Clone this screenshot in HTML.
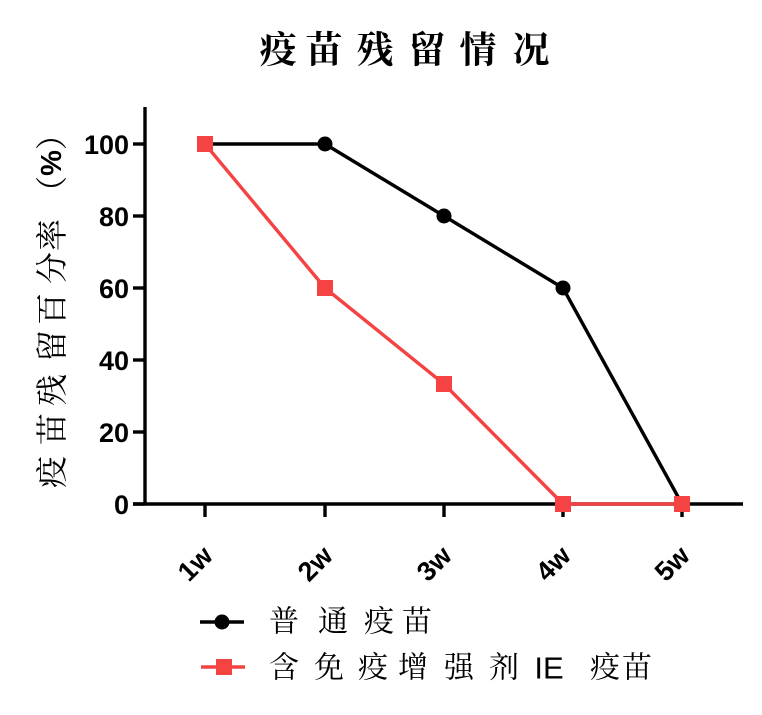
<!DOCTYPE html>
<html><head><meta charset="utf-8"><style>
html,body{margin:0;padding:0;background:#fff;}
svg{display:block;}
.t{font-family:"Liberation Sans",Arial,sans-serif;font-weight:bold;font-size:27px;fill:#000;}
.cj{font-family:"Liberation Serif","Noto Serif CJK SC","Noto Sans CJK SC",serif;fill:#000;}
</style></head><body>
<svg width="762" height="715" viewBox="0 0 762 715" xmlns="http://www.w3.org/2000/svg">
<!-- title -->
<g class="cj" font-size="37" font-weight="bold" text-anchor="middle" dominant-baseline="central">
<text x="278" y="51">疫</text><text x="324" y="51">苗</text><text x="375" y="51">残</text>
<text x="427" y="51">留</text><text x="478" y="51">情</text><text x="531" y="51">况</text>
</g>
<!-- y label -->
<g class="cj" font-size="32" text-anchor="middle" dominant-baseline="central">
<text transform="translate(52,472) rotate(-90)">疫</text>
<text transform="translate(52,429) rotate(-90)">苗</text>
<text transform="translate(52,390) rotate(-90)">残</text>
<text transform="translate(52,346) rotate(-90)">留</text>
<text transform="translate(52,309) rotate(-90)">百</text>
<text transform="translate(52,268) rotate(-90)">分</text>
<text transform="translate(52,235) rotate(-90)">率</text>
<text transform="translate(52,163) rotate(-90)">（<tspan font-family="Liberation Sans" font-weight="bold" font-size="29">%</tspan>）</text>
</g>
<!-- axes -->
<g stroke="#000" stroke-width="3.4" fill="none">
<line x1="145" y1="107" x2="145" y2="505"/>
<line x1="133" y1="504" x2="743" y2="504"/>
<line x1="133" y1="144" x2="145" y2="144"/>
<line x1="133" y1="216" x2="145" y2="216"/>
<line x1="133" y1="288" x2="145" y2="288"/>
<line x1="133" y1="360" x2="145" y2="360"/>
<line x1="133" y1="432" x2="145" y2="432"/>
<line x1="133" y1="504" x2="145" y2="504"/>
<line x1="205" y1="504" x2="205" y2="517"/>
<line x1="325" y1="504" x2="325" y2="517"/>
<line x1="444" y1="504" x2="444" y2="517"/>
<line x1="563" y1="504" x2="563" y2="517"/>
<line x1="682" y1="504" x2="682" y2="517"/>
</g>
<!-- y tick labels -->
<g class="t" text-anchor="end" dominant-baseline="central">
<text x="129" y="145">100</text>
<text x="129" y="217">80</text>
<text x="129" y="289">60</text>
<text x="129" y="361">40</text>
<text x="129" y="433">20</text>
<text x="129" y="505">0</text>
</g>
<!-- x tick labels -->
<g class="t" font-size="28" text-anchor="end" dominant-baseline="central">
<text transform="translate(208,551) rotate(-45)">1w</text>
<text transform="translate(328,551) rotate(-45)">2w</text>
<text transform="translate(447,551) rotate(-45)">3w</text>
<text transform="translate(566,551) rotate(-45)">4w</text>
<text transform="translate(685,551) rotate(-45)">5w</text>
</g>
<!-- black series -->
<polyline points="205,144 325,144 444,216 563,288 682,504" fill="none" stroke="#000" stroke-width="3.4" stroke-linejoin="round"/>
<g fill="#000">
<circle cx="205" cy="144" r="7.5"/>
<circle cx="325" cy="144" r="7.5"/>
<circle cx="444" cy="216" r="7.5"/>
<circle cx="563" cy="288" r="7.5"/>
<circle cx="682" cy="504" r="7.5"/>
</g>
<!-- red series -->
<polyline points="205,144 325,288 444,384 563,504 682,504" fill="none" stroke="#F54242" stroke-width="3.4" stroke-linejoin="round"/>
<g fill="#F54242">
<rect x="197" y="136" width="16" height="16"/>
<rect x="317" y="280" width="16" height="16"/>
<rect x="436" y="376" width="16" height="16"/>
<rect x="555" y="496" width="16" height="16"/>
<rect x="674" y="496" width="16" height="16"/>
</g>
<!-- legend -->
<line x1="200" y1="622" x2="244" y2="622" stroke="#000" stroke-width="3.4"/>
<circle cx="222" cy="622" r="7.5" fill="#000"/>
<line x1="201" y1="667" x2="245" y2="667" stroke="#F54242" stroke-width="3.4"/>
<rect x="216" y="659" width="16" height="16" fill="#F54242"/>
<g class="cj" font-size="30" text-anchor="middle" dominant-baseline="central">
<text x="284" y="622">普</text><text x="333" y="622">通</text><text x="379" y="622">疫</text><text x="417" y="622">苗</text>
<text x="284" y="668">含</text><text x="329" y="668">免</text><text x="373" y="668">疫</text><text x="413" y="668">增</text>
<text x="459" y="668">强</text><text x="504" y="668">剂</text>
<text x="549" y="668" font-family="Liberation Sans" font-size="31">IE</text>
<text x="605" y="668">疫</text><text x="637" y="668">苗</text>
</g>
</svg>
</body></html>
